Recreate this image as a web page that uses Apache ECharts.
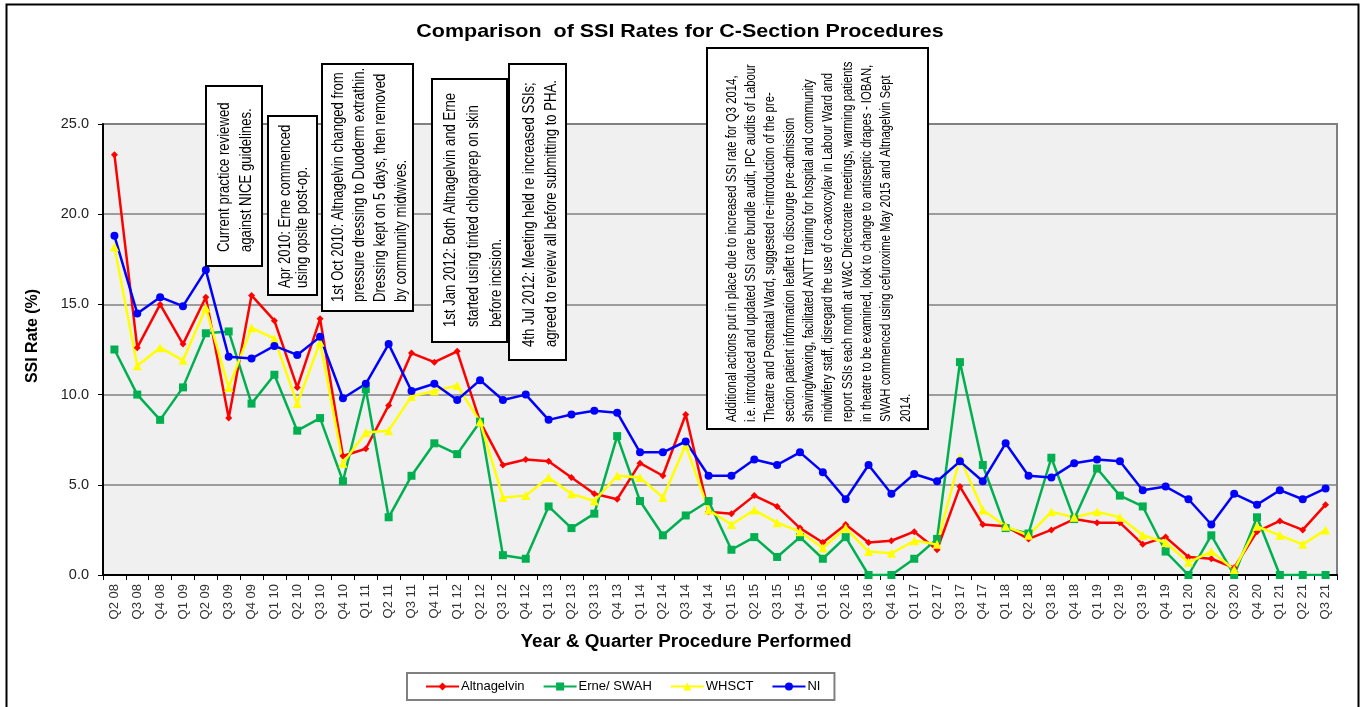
<!DOCTYPE html>
<html>
<head>
<meta charset="utf-8">
<title>Comparison of SSI Rates for C-Section Procedures</title>
<script src="https://cdn.jsdelivr.net/npm/echarts@6/dist/echarts.min.js"></script>
<style>
  html, body { margin: 0; padding: 0; background: #fff; }
  #main { width: 1363px; height: 707px; }
</style>
</head>
<body>
<div id="main"></div>
<script>
// quarters on the x axis
var quarters = ['Q2 08','Q3 08','Q4 08','Q1 09','Q2 09','Q3 09','Q4 09','Q1 10','Q2 10','Q3 10',
  'Q4 10','Q1 11','Q2 11','Q3 11','Q4 11','Q1 12','Q2 12','Q3 12','Q4 12','Q1 13',
  'Q2 13','Q3 13','Q4 13','Q1 14','Q2 14','Q3 14','Q4 14','Q1 15','Q2 15','Q3 15',
  'Q4 15','Q1 16','Q2 16','Q3 16','Q4 16','Q1 17','Q2 17','Q3 17','Q4 17','Q1 18',
  'Q2 18','Q3 18','Q4 18','Q1 19','Q2 19','Q3 19','Q4 19','Q1 20','Q2 20','Q3 20',
  'Q4 20','Q1 21','Q2 21','Q3 21'];

// SSI rate (%) per site
var altnagelvin = [23.3, 12.6, 15.0, 12.8, 15.4, 8.7, 15.5, 14.1, 10.4, 14.2,
  6.6, 7.0, 9.4, 12.3, 11.8, 12.4, 8.5, 6.1, 6.4, 6.3,
  5.4, 4.5, 4.2, 6.2, 5.5, 8.9, 3.5, 3.4, 4.4, 3.8,
  2.6, 1.8, 2.8, 1.8, 1.9, 2.4, 1.4, 4.9, 2.8, 2.7,
  2.0, 2.5, 3.1, 2.9, 2.9, 1.7, 2.1, 1.0, 0.9, 0.4,
  2.4, 3.0, 2.5, 3.9];
var erneSwah = [12.5, 10.0, 8.6, 10.4, 13.4, 13.5, 9.5, 11.1, 8.0, 8.7,
  5.2, 10.3, 3.2, 5.5, 7.3, 6.7, 8.5, 1.1, 0.9, 3.8,
  2.6, 3.4, 7.7, 4.1, 2.2, 3.3, 4.1, 1.4, 2.1, 1.0,
  2.1, 0.9, 2.1, 0.0, 0.0, 0.9, 2.0, 11.8, 6.1, 2.6,
  2.3, 6.5, 3.1, 5.9, 4.4, 3.8, 1.3, 0.0, 2.2, 0.0,
  3.2, 0.0, 0.0, 0.0];
var whsct = [18.2, 11.6, 12.6, 11.9, 14.8, 10.4, 13.7, 13.1, 9.5, 12.9,
  6.2, 7.9, 8.0, 9.9, 10.2, 10.5, 8.5, 4.3, 4.4, 5.4,
  4.5, 4.1, 5.5, 5.4, 4.3, 7.2, 3.6, 2.8, 3.6, 2.9,
  2.4, 1.5, 2.6, 1.3, 1.2, 1.9, 1.7, 6.5, 3.6, 2.7,
  2.2, 3.5, 3.2, 3.5, 3.2, 2.2, 1.8, 0.7, 1.3, 0.3,
  2.7, 2.2, 1.7, 2.5];
var ni = [18.8, 14.5, 15.4, 14.9, 16.9, 12.1, 12.0, 12.7, 12.2, 13.2,
  9.8, 10.6, 12.8, 10.2, 10.6, 9.7, 10.8, 9.7, 10.0, 8.6,
  8.9, 9.1, 9.0, 6.8, 6.8, 7.4, 5.5, 5.5, 6.4, 6.1,
  6.8, 5.7, 4.2, 6.1, 4.5, 5.6, 5.2, 6.3, 5.2, 7.3,
  5.5, 5.4, 6.2, 6.4, 6.3, 4.7, 4.9, 4.2, 2.8, 4.5,
  3.9, 4.7, 4.2, 4.8];

// text boxes put on the chart
var notes = [
  'Current practice reviewed\nagainst NICE guidelines.',
  'Apr 2010: Erne commenced\nusing opsite post-op.',
  '1st Oct 2010: Altnagelvin changed from\npressure dressing to Duoderm extrathin.\nDressing kept on 5 days, then removed\nby community midwives.',
  '1st Jan 2012: Both Altnagelvin and Erne\nstarted using tinted chloraprep on skin\nbefore incision.',
  '4th Jul 2012: Meeting held re increased SSIs;\nagreed to review all before submitting to PHA.',
  'Additional actions put in place due to increased SSI rate for Q3 2014,\ni.e. introduced and updated SSI care bundle audit, IPC audits of Labour\nTheatre and Postnatal Ward, suggested re-introduction of the pre-\nsection patient information leaflet to discourge pre-admission\nshaving/waxing, facilitated ANTT training for hospital and community\nmidwifery staff, disregard the use of co-axoxcylav in Labour Ward and\nreport SSIs each month at W&C Directorate meetings, warming patients\nin theatre to be examined, look to change to antiseptic drapes - IOBAN,\nSWAH commenced using cefuroxime May 2015 and Altnagelvin Sept\n2014.'
];

var font = '"Liberation Sans", Arial, sans-serif';

// box layout: [left, top, right, bottom, first line centre x, text bottom y, font size, line height]
var boxLayout = [
  [206, 86, 262, 266, 225, 252, 16, 22],
  [268, 116, 317, 295, 286, 288, 16, 17],
  [322, 64, 413, 311, 339, 302, 16, 21],
  [432, 79, 507, 342, 451, 327, 16, 23],
  [509, 64, 566, 360, 530, 347, 16, 22],
  [707, 48, 928, 429, 732, 422, 13.8, 19.3]
];

var graphics = [{
  type: 'rect', z: -10, silent: true,
  shape: { x: 6.5, y: 4.5, width: 1352, height: 720 },
  style: { fill: 'none', stroke: '#000', lineWidth: 2 }
}, {
  // title, stretched like the source picture
  type: 'text', silent: true, x: 680, y: 32, scaleX: 1.13,
  style: {
    text: 'Comparison  of SSI Rates for C-Section Procedures',
    font: 'bold 19px ' + font, fill: '#000', textAlign: 'center', textVerticalAlign: 'middle'
  }
}, {
  type: 'text', silent: true, x: 686, y: 642, scaleX: 1.05,
  style: {
    text: 'Year & Quarter Procedure Performed',
    font: 'bold 18px ' + font, fill: '#000', textAlign: 'center', textVerticalAlign: 'middle'
  }
}, {
  type: 'text', silent: true, x: 33, y: 336, rotation: Math.PI / 2,
  style: {
    text: 'SSI Rate (%)',
    font: 'bold 16px ' + font, fill: '#000', textAlign: 'center', textVerticalAlign: 'middle'
  }
}];
boxLayout.forEach(function (b, i) {
  graphics.push({
    type: 'rect', z: 100, silent: true,
    shape: { x: b[0], y: b[1], width: b[2] - b[0], height: b[3] - b[1] },
    style: { fill: '#fff', stroke: '#000', lineWidth: 2 }
  });
  graphics.push({
    type: 'text', z: 101, silent: true,
    x: b[4] - b[7] / 2, y: b[5], rotation: Math.PI / 2, scaleX: 0.82,
    style: {
      text: notes[i], fill: '#000',
      font: b[6] + 'px ' + font, lineHeight: b[7],
      textAlign: 'left', textVerticalAlign: 'top'
    }
  });
});

function lineSeries(name, data, color, symbol, size) {
  return {
    name: name, type: 'line', data: data,
    symbol: symbol, symbolSize: size,
    animation: false,
    lineStyle: { color: color, width: 2.5 },
    itemStyle: { color: color }
  };
}

var myChart = echarts.init(document.getElementById('main'));
myChart.setOption({
  backgroundColor: '#fff',
  legend: {
    left: 407, top: 673,
    padding: [7, 14, 7, 18],
    itemGap: 18, itemWidth: 33, itemHeight: 10,
    borderColor: '#808080', borderWidth: 2,
    textStyle: { fontFamily: font, fontSize: 13, color: '#000', padding: [0, 0, 0, -3] },
    data: ['Altnagelvin', 'Erne/ SWAH', 'WHSCT', 'NI']
  },
  grid: {
    left: 103, right: 26, top: 124, bottom: 132,
    show: true, backgroundColor: '#F0F0F0', borderColor: '#808080', borderWidth: 2
  },
  xAxis: {
    type: 'category', data: quarters, boundaryGap: true,
    axisLine: { lineStyle: { color: '#000', width: 2 } },
    axisTick: { show: true, alignWithLabel: false, length: 5, lineStyle: { color: '#000' } },
    axisLabel: { rotate: 90, interval: 0, margin: 9, fontFamily: font, fontSize: 13, color: '#333' },
    splitLine: { show: false }
  },
  yAxis: {
    type: 'value', min: 0, max: 25, interval: 5,
    axisLine: { show: true, lineStyle: { color: '#000', width: 2 } },
    axisTick: { show: true, length: 5, lineStyle: { color: '#000' } },
    axisLabel: {
      margin: 14, fontFamily: font, fontSize: 14.5, color: '#222',
      formatter: function (v) { return v.toFixed(1); }
    },
    splitLine: { lineStyle: { color: '#808080', width: 1.5 } }
  },
  graphic: graphics,
  series: [
    lineSeries('Altnagelvin', altnagelvin, '#FF0000', 'diamond', 7),
    lineSeries('Erne/ SWAH', erneSwah, '#00B050', 'rect', 8),
    lineSeries('WHSCT', whsct, '#FFFF00', 'triangle', 9),
    lineSeries('NI', ni, '#0000FF', 'circle', 8)
  ]
});
</script>
</body>
</html>
